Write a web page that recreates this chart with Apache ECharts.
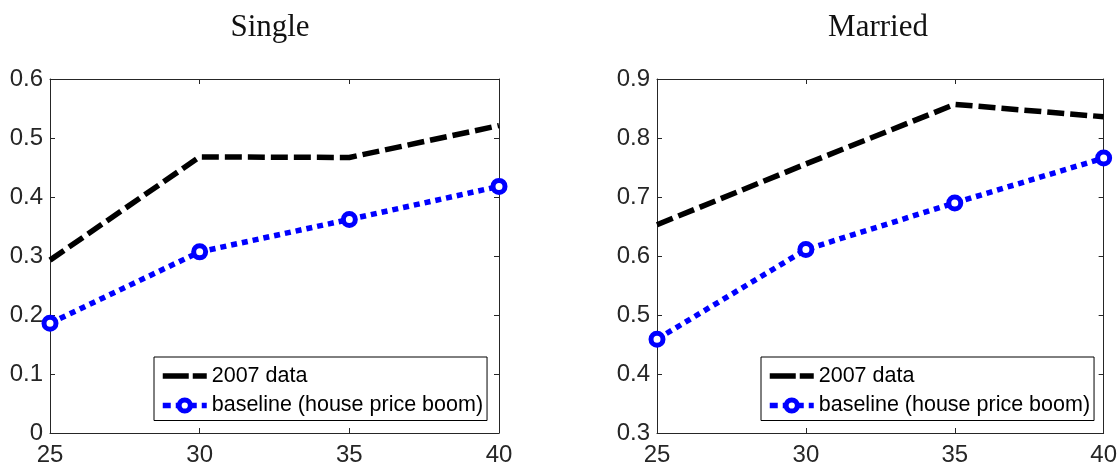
<!DOCTYPE html>
<html><head><meta charset="utf-8">
<script src="https://cdn.jsdelivr.net/npm/echarts@6/dist/echarts.min.js"></script>
<style>html,body{margin:0;padding:0;background:#fff}#c{width:1120px;height:468px}</style>
</head><body><div id="c"></div>
<script>
// ---- data ----
const ages = [25, 30, 35, 40];
const single2007 = [0.293, 0.468, 0.467, 0.521];
const singleBaseline = [0.186, 0.307, 0.362, 0.418];
const married2007 = [0.653, 0.756, 0.857, 0.836];
const marriedBaseline = [0.459, 0.611, 0.690, 0.766];
const panelTitles = ['Single', 'Married'];
const seriesNames = ['2007 data', 'baseline (house price boom)'];
const xRange = { min: 25, max: 40, interval: 5 };
const yRanges = [{ min: 0, max: 0.6, interval: 0.1 }, { min: 0.3, max: 0.9, interval: 0.1 }];

const panels = [[single2007, singleBaseline], [married2007, marriedBaseline]];
const gridLefts = [50, 657];
const titleCenters = [265, 873];
const AX = '#262626';
const zip = v => ages.map((a, i) => [a, v[i]]);

const grid = [], xAxis = [], yAxis = [], series = [], title = [], legend = [];
panels.forEach((p, g) => {
  grid.push({ left: gridLefts[g], width: 449, top: 79, height: 354, containLabel: false });
  title.push({ text: panelTitles[g], left: titleCenters[g], top: 7, textAlign: 'center',
    textStyle: { fontFamily: 'Liberation Serif', fontSize: 31, fontWeight: 'normal', color: '#111' } });
  const common = { axisLine: { show: true, onZero: false, lineStyle: { color: AX, width: 1 } },
    axisTick: { show: true, inside: true, length: 5, lineStyle: { color: AX, width: 1 } },
    splitLine: { show: false } };
  xAxis.push(Object.assign({ type: 'value', gridIndex: g, position: 'bottom', ...xRange,
    axisLabel: { show: true, margin: 10, fontSize: 24, fontFamily: 'Liberation Sans', color: AX, showMaxLabel: true, hideOverlap: false } }, common));
  xAxis.push(Object.assign({ type: 'value', gridIndex: g, position: 'top', ...xRange,
    axisLabel: { show: false } }, common));
  yAxis.push(Object.assign({ type: 'value', gridIndex: g, position: 'left', ...yRanges[g],
    axisLabel: { show: true, margin: 7, fontSize: 24, fontFamily: 'Liberation Sans', color: AX } }, common));
  yAxis.push(Object.assign({ type: 'value', gridIndex: g, position: 'right', ...yRanges[g],
    axisLabel: { show: false } }, common));
  series.push({ name: seriesNames[0], type: 'line', xAxisIndex: 2 * g, yAxisIndex: 2 * g,
    data: zip(p[0]), symbol: 'none', clip: false,
    lineStyle: { color: '#000', width: 5.5, type: [17, 6], cap: 'butt' }, itemStyle: { color: '#000' } });
  series.push({ name: seriesNames[1], type: 'line', xAxisIndex: 2 * g, yAxisIndex: 2 * g,
    data: zip(p[1]), symbol: 'circle', symbolSize: 12, clip: false,
    lineStyle: { color: '#0000ff', width: 5.5, type: [6, 5], cap: 'butt' },
    itemStyle: { color: '#ffffff', borderColor: '#0000ff', borderWidth: 5 } });
  legend.push({ orient: 'vertical', left: gridLefts[g] + 104, top: 357,
    backgroundColor: '#fff', borderColor: '#000', borderWidth: 1, borderRadius: 0,
    padding: [8, 4, 4, 6], itemGap: 7.5, itemWidth: 44, itemHeight: 14, selectedMode: false,
    textStyle: { fontSize: 21.5, fontFamily: 'Liberation Sans', color: '#000' },
    data: [
      { name: seriesNames[0], itemStyle: { opacity: 0 }, lineStyle: { color: '#000', width: 5.5, type: [26, 4], cap: 'butt' } },
      { name: seriesNames[1], itemStyle: { color: '#fff', borderColor: '#0000ff', borderWidth: 5 },
        lineStyle: { color: '#0000ff', width: 5.5, type: [8, 5], cap: 'butt' } }
    ] });
});

const chart = echarts.init(document.getElementById('c'), null, { renderer: 'canvas' });
chart.setOption({ animation: false, backgroundColor: '#fff', title, grid, xAxis, yAxis, series, legend });
</script></body></html>
